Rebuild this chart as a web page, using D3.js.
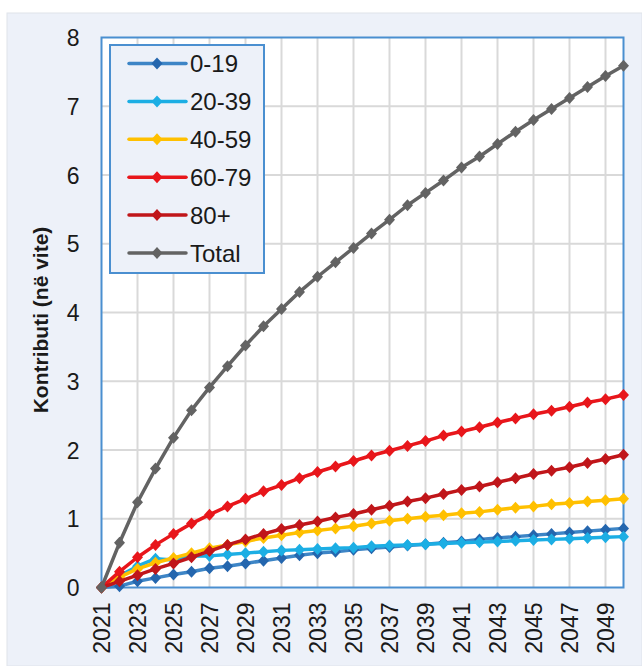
<!DOCTYPE html>
<html>
<head>
<meta charset="utf-8">
<script src="https://cdn.jsdelivr.net/npm/d3@7"></script>
<style>
  html, body { margin: 0; padding: 0; background: #ffffff; }
  svg { display: block; }
  text { font-family: "Liberation Sans", Arial, sans-serif; fill: #1a1a1a; }
</style>
</head>
<body>
<svg id="chart" width="642" height="666"></svg>
<script>
const years = d3.range(2021, 2051);
const xTickLabels = ["2021","2023","2025","2027","2029","2031","2033","2035","2037","2039","2041","2043","2045","2047","2049"];
const yTickLabels = [0,1,2,3,4,5,6,7,8];
const seriesNames = ["0-19","20-39","40-59","60-79","80+","Total"];

const v0_19 = [0,0.02,0.09,0.14,0.19,0.23,0.28,0.31,0.35,0.39,0.43,0.47,0.50,0.52,0.55,0.57,0.59,0.61,0.63,0.65,0.67,0.70,0.72,0.74,0.76,0.78,0.80,0.82,0.84,0.86];
const v20_39 = [0,0.17,0.31,0.42,0.40,0.46,0.46,0.48,0.50,0.52,0.54,0.55,0.56,0.57,0.58,0.60,0.61,0.62,0.63,0.64,0.65,0.66,0.67,0.68,0.69,0.70,0.71,0.72,0.73,0.74];
const v40_59 = [0,0.15,0.27,0.36,0.43,0.50,0.57,0.62,0.67,0.72,0.76,0.80,0.83,0.86,0.89,0.93,0.97,1.00,1.03,1.05,1.08,1.10,1.13,1.16,1.18,1.21,1.23,1.25,1.27,1.29];
const v60_79 = [0,0.23,0.44,0.62,0.78,0.93,1.06,1.18,1.29,1.40,1.49,1.59,1.68,1.76,1.84,1.92,1.99,2.06,2.13,2.21,2.27,2.33,2.40,2.46,2.52,2.57,2.63,2.69,2.74,2.80];
const v80p = [0,0.09,0.18,0.27,0.35,0.44,0.53,0.62,0.70,0.78,0.85,0.91,0.96,1.02,1.07,1.13,1.19,1.25,1.30,1.36,1.42,1.47,1.53,1.59,1.65,1.70,1.75,1.81,1.87,1.93];
const vTotal = [0,0.65,1.24,1.73,2.18,2.58,2.91,3.22,3.52,3.80,4.05,4.30,4.52,4.73,4.94,5.15,5.35,5.56,5.74,5.92,6.11,6.27,6.45,6.63,6.80,6.96,7.12,7.28,7.44,7.59];

const lineColors = ["#3d85c6","#1caee4","#ffc000","#e8161b","#c0161a","#636363"];
const markerColors = ["#2466ae","#1caee4","#ffc000","#e8161b","#c0161a","#636363"];
const allValues = [v0_19, v20_39, v40_59, v60_79, v80p, vTotal];

const svg = d3.select("#chart");

// panel background
svg.append("rect").attr("x", 7).attr("y", 13).attr("width", 635).attr("height", 653)
  .attr("fill", "#edf1f9").attr("stroke", "#dfe3ea").attr("stroke-width", 1);

const L = 101.5, R = 623.5, T = 37.5, B = 587.5;
const x = d3.scaleLinear().domain([2021, 2050]).range([L, R]);
const y = d3.scaleLinear().domain([0, 8]).range([B, T]);

// plot area
svg.append("rect").attr("x", L).attr("y", T).attr("width", R - L).attr("height", B - T).attr("fill", "#ffffff");

// gridlines
const grid = svg.append("g");
grid.selectAll("line.h").data(yTickLabels.filter(d => d > 0 && d < 8)).enter().append("line")
  .attr("x1", L).attr("x2", R).attr("y1", d => y(d)).attr("y2", d => y(d))
  .attr("stroke", "#d9d9d9").attr("stroke-width", 2);
grid.selectAll("line.v").data(xTickLabels.map(Number).filter(d => d > 2021)).enter().append("line")
  .attr("y1", T).attr("y2", B).attr("x1", d => x(d)).attr("x2", d => x(d))
  .attr("stroke", "#d9d9d9").attr("stroke-width", 2);

// plot border
svg.append("rect").attr("x", L).attr("y", T).attr("width", R - L).attr("height", B - T)
  .attr("fill", "none").attr("stroke", "#4a8fd0").attr("stroke-width", 2);

// y axis
const yAxis = d3.axisLeft(y).tickValues(yTickLabels).tickSize(0).tickPadding(22).tickFormat(d3.format("d"));
const gy = svg.append("g").attr("transform", `translate(${L},0)`).call(yAxis);
gy.select(".domain").remove();
gy.selectAll("text").style("font-size", "23px").attr("fill", "#1a1a1a").attr("dy", "0.35em");

// x axis
const xAxis = d3.axisBottom(x).tickValues(xTickLabels.map(Number)).tickSize(0).tickFormat(d => String(d));
const gx = svg.append("g").attr("transform", `translate(0,${B})`).call(xAxis);
gx.select(".domain").remove();
gx.selectAll("text").style("font-size", "23px").attr("fill", "#1a1a1a")
  .attr("transform", "rotate(-90)").attr("text-anchor", "end")
  .attr("x", -15).attr("y", 0).attr("dy", "0.36em");

// y label
svg.append("text").attr("transform", "translate(48,320) rotate(-90)")
  .attr("text-anchor", "middle").style("font-size", "21px").style("font-weight", "bold")
  .text("Kontributi (në vite)");

// series
const line = d3.line().x((d, i) => x(years[i])).y(d => y(d));
const diamond = "M0,-6L5.5,0L0,6L-5.5,0Z";
const gs = svg.append("g");
allValues.forEach((vals, k) => {
  gs.append("path").datum(vals).attr("d", line).attr("fill", "none")
    .attr("stroke", lineColors[k]).attr("stroke-width", 3.5).attr("stroke-linejoin", "round");
  gs.append("g").selectAll("path").data(vals).enter().append("path")
    .attr("d", diamond).attr("transform", (d, i) => `translate(${x(years[i])},${y(d)})`)
    .attr("fill", markerColors[k]);
});

// legend
const lg = svg.append("g");
lg.append("rect").attr("x", 110).attr("y", 45).attr("width", 154).attr("height", 228)
  .attr("fill", "#edf1f9").attr("stroke", "#4a8fd0").attr("stroke-width", 2);
seriesNames.forEach((name, k) => {
  const yy = 63.5 + k * 37.9;
  lg.append("line").attr("x1", 129).attr("x2", 186).attr("y1", yy).attr("y2", yy)
    .attr("stroke", lineColors[k]).attr("stroke-width", 3.5).attr("stroke-linecap", "round");
  lg.append("path").attr("d", diamond).attr("transform", `translate(157,${yy})`).attr("fill", markerColors[k]);
  lg.append("text").attr("x", 190).attr("y", yy).attr("dy", "0.36em")
    .style("font-size", "24px").text(name);
});
</script>
</body>
</html>
